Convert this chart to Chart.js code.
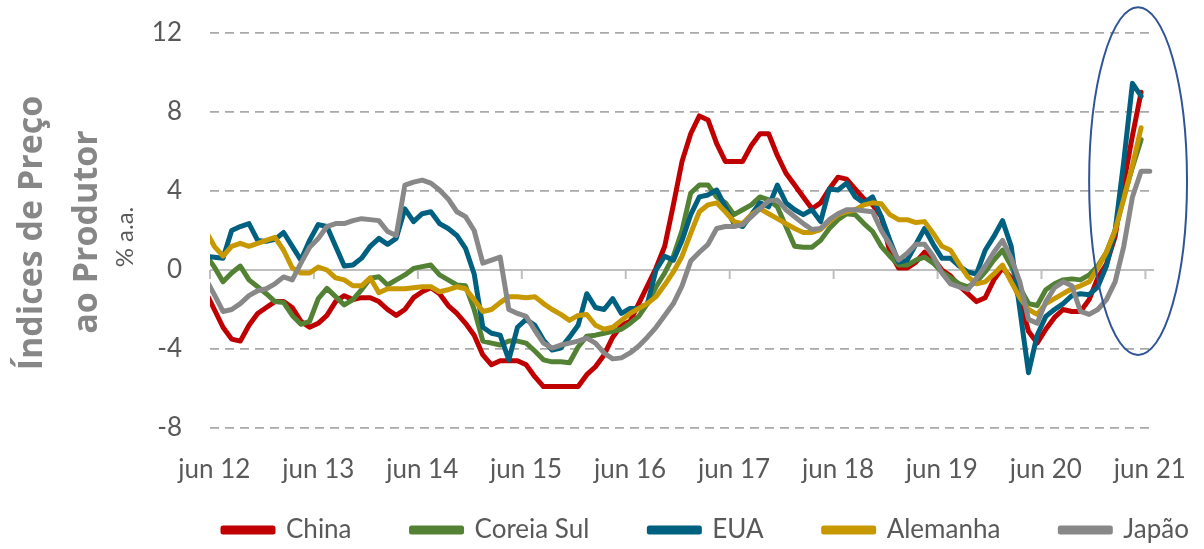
<!DOCTYPE html>
<html>
<head>
<meta charset="utf-8">
<script src="https://cdn.jsdelivr.net/npm/chart.js@4.4.1/dist/chart.umd.min.js"></script>
<style>
    html, body { margin: 0; padding: 0; background: #ffffff; }
    #wrap { width: 1204px; height: 549px; position: relative; }
</style>
</head>
<body>
<div id="wrap"><canvas id="ppiChart"></canvas></div>
<script>
// Months: mai 12 .. jun 21 (mai 12 sits just left of the axis and is clipped, as in the original)
var monthNames = ["jan", "fev", "mar", "abr", "mai", "jun", "jul", "ago", "set", "out", "nov", "dez"];
var xLabels = [];
for (var yr = 12; yr <= 21; yr++) {
    for (var m = 0; m < 12; m++) {
        if (yr === 12 && m < 4) continue;
        if (yr === 21 && m > 5) continue;
        xLabels.push(monthNames[m] + " " + yr);
    }
}
var firstMonth = "jun 12";
var lastMonth = "jun 21";

var yMin = -8;
var yMax = 12;
var yStep = 4;

var seriesNames = ["China", "Coreia Sul", "EUA", "Alemanha", "Japão"];
var seriesColors = ["#C00000", "#548235", "#006080", "#C89800", "#888888"];

// % a.a., mai 12 .. jun 21
var china = [
    -1.1, -2.0, -2.9, -3.5, -3.6, -2.8, -2.2, -1.9,
    -1.6, -1.6, -1.9, -2.6, -2.9, -2.7, -2.3, -1.6, -1.3, -1.5, -1.4, -1.4,
    -1.6, -2.0, -2.3, -2.0, -1.4, -1.1, -0.9, -1.2, -1.8, -2.2, -2.7, -3.3,
    -4.3, -4.8, -4.6, -4.6, -4.6, -4.8, -5.4, -5.9, -5.9, -5.9, -5.9, -5.9,
    -5.3, -4.9, -4.3, -3.4, -2.8, -2.6, -1.7, -0.8, 0.1, 1.2, 3.3, 5.5,
    6.9, 7.8, 7.6, 6.4, 5.5, 5.5, 5.5, 6.3, 6.9, 6.9, 5.8, 4.9,
    4.3, 3.7, 3.1, 3.4, 4.1, 4.7, 4.6, 4.1, 3.6, 3.3, 2.7, 0.9,
    0.1, 0.1, 0.4, 0.9, 0.6, 0.0, -0.3, -0.8, -1.2, -1.6, -1.4, -0.5,
    0.1, -0.4, -1.5, -3.1, -3.7, -3.0, -2.4, -2.0, -2.1, -2.1, -1.5, -0.4,
    0.3, 1.7, 4.4, 6.8, 9.0, null
];
var coreiaSul = [
    0.8, 0.15, -0.6, -0.15, 0.2, -0.5, -0.85, -1.2,
    -1.6, -1.65, -2.3, -2.75, -2.6, -1.45, -0.93, -1.35, -1.77, -1.5, -1.0, -0.42,
    -0.34, -0.76, -0.5, -0.25, 0.08, 0.17, 0.25, -0.25, -0.5, -0.76, -0.8, -2.0,
    -3.6, -3.7, -3.8, -3.6, -3.6, -3.7, -4.1, -4.55, -4.65, -4.65, -4.7, -3.9,
    -3.35, -3.3, -3.2, -3.1, -3.0, -2.7, -2.35, -1.7, -0.85, -0.15, 0.7, 2.0,
    3.9, 4.3, 4.3, 3.7, 3.4, 2.8, 3.05, 3.3, 3.7, 3.55, 3.2, 2.2,
    1.2, 1.15, 1.15, 1.5, 2.1, 2.55, 2.85, 2.8, 2.35, 1.95, 1.2, 0.7,
    0.25, 0.25, 0.5, 0.65, 0.35, -0.1, -0.4, -0.7, -0.85, -0.6, -0.1, 0.5,
    1.0, 0.2, -0.9, -1.7, -1.8, -1.0, -0.7, -0.5, -0.45, -0.5, -0.25, 0.2,
    0.9, 2.0, 3.7, 5.2, 6.6, null
];
var eua = [
    0.7, 0.65, 0.6, 2.0, 2.2, 2.35, 1.5, 1.45,
    1.55, 1.9, 1.2, 0.5, 1.5, 2.3, 2.2, 1.2, 0.2, 0.25, 0.6, 1.2,
    1.6, 1.3, 1.6, 3.1, 2.45, 2.85, 2.95, 2.35, 2.1, 1.75, 1.1, -0.2,
    -2.9, -3.2, -3.3, -4.55, -2.9, -2.5, -2.8, -3.55, -4.05, -3.95, -3.4, -2.8,
    -1.2, -1.9, -2.0, -1.45, -2.2, -1.95, -1.95, -1.7, 0.0, 0.7, 0.5, 1.5,
    2.8, 3.7, 3.8, 4.05, 3.2, 2.35, 2.2, 2.8, 3.4, 3.2, 4.3, 3.4,
    3.05, 2.8, 3.05, 2.45, 4.1, 4.05, 4.4, 3.7, 3.4, 3.7, 2.7, 1.5,
    0.4, 0.5, 1.3, 2.1, 1.3, 0.6, 0.6, 0.2, -0.1, -0.2, 1.0, 1.7,
    2.5, 1.2, -2.0, -5.2, -3.3, -2.35, -2.0, -1.7, -1.3, -1.2, -1.25, -0.85,
    0.2, 2.0, 5.5, 9.45, 8.8, null
];
var alemanha = [
    2.0, 1.2, 0.7, 1.2, 1.35, 1.2, 1.35, 1.5,
    1.65, 1.0, 0.1, -0.15, -0.15, 0.15, 0.0, -0.4, -0.5, -0.8, -0.8, -0.4,
    -1.15, -0.95, -0.95, -0.95, -0.9, -0.85, -0.85, -1.1, -1.0, -0.85, -0.95, -1.5,
    -2.1, -2.0, -1.65, -1.35, -1.35, -1.4, -1.35, -1.7, -2.0, -2.25, -2.55, -2.3,
    -2.25, -2.8, -3.0, -2.9, -2.55, -2.2, -1.95, -1.7, -1.35, -0.75, -0.1, 0.7,
    1.85, 2.95, 3.3, 3.4, 2.95, 2.45, 2.35, 2.8, 3.1, 2.85, 2.6, 2.35,
    2.1, 1.9, 1.9, 2.05, 2.45, 2.8, 2.95, 3.05, 3.3, 3.4, 3.35, 2.8,
    2.55, 2.55, 2.4, 2.45, 1.85, 1.2, 1.0, 0.3, -0.35, -0.7, -0.6, -0.2,
    0.25, -0.6, -1.4, -2.0, -2.25, -1.7, -1.45, -1.2, -0.95, -0.8, -0.6, 0.1,
    0.9, 2.0, 3.6, 5.3, 7.2, null
];
var japao = [
    -0.45, -1.25, -2.1, -2.0, -1.7, -1.3, -1.05, -0.95,
    -0.7, -0.35, -0.5, 0.35, 1.15, 1.6, 2.2, 2.35, 2.35, 2.5, 2.6, 2.55,
    2.5, 1.95, 1.75, 4.3, 4.45, 4.55, 4.4, 4.05, 3.6, 2.95, 2.7, 2.0,
    0.35, 0.5, 0.65, -2.0, -2.2, -2.35, -3.05, -3.7, -3.95, -3.8, -3.7, -3.6,
    -3.45, -3.7, -4.2, -4.5, -4.45, -4.2, -3.85, -3.4, -2.9, -2.3, -1.7, -0.8,
    0.45, 0.9, 1.3, 2.1, 2.2, 2.2, 2.3, 2.7, 3.1, 3.5, 3.55, 3.05,
    2.7, 2.35, 2.05, 2.1, 2.55, 2.85, 3.05, 3.05, 3.0, 2.95, 2.0, 1.3,
    0.5, 0.85, 1.3, 1.3, 0.7, -0.15, -0.7, -0.85, -1.0, -0.4, 0.2, 0.9,
    1.5, 0.6, -0.6, -2.5, -2.7, -1.6, -0.9, -0.6, -0.8, -2.1, -2.25, -2.0,
    -1.5, -0.6, 1.2, 3.7, 5.0, 5.0
];
var seriesData = [china, coreiaSul, eua, alemanha, japao];

// highlighted area (ellipse) in data units
var highlight = { fromMonth: "nov 20", months: 11.3, low: -4.3, high: 13.3 };

var labelFont = "Lato, 'Liberation Sans', sans-serif";
var textGrey = "#595959";

var datasets = seriesNames.map(function (name, i) {
    return {
        label: name,
        data: seriesData[i],
        borderColor: seriesColors[i],
        backgroundColor: seriesColors[i],
        borderWidth: 5,
        borderJoinStyle: "round",
        borderCapStyle: "round",
        pointRadius: 0,
        pointHoverRadius: 0,
        tension: 0,
        clip: 0,
        order: seriesNames.length - i   // later series drawn on top, like Excel
    };
});

// solid zero line + small year tick marks
var zeroAxis = {
    id: "zeroAxis",
    beforeDatasetsDraw: function (chart) {
        var ctx = chart.ctx;
        var xs = chart.scales.x;
        var y0 = chart.scales.y.getPixelForValue(0);
        ctx.save();
        ctx.strokeStyle = "#BFBFBF";
        ctx.lineWidth = 2;
        ctx.beginPath();
        ctx.moveTo(chart.chartArea.left, y0);
        ctx.lineTo(chart.chartArea.right, y0);
        for (var i = xs.min; i <= xs.max; i++) {
            if (xLabels[i].indexOf("jun") === 0) {
                var px = (xs.getPixelForValue(i - 1) + xs.getPixelForValue(i)) / 2;
                ctx.moveTo(px, y0);
                ctx.lineTo(px, y0 + 9);
            }
        }
        ctx.stroke();
        ctx.restore();
    }
};

// ellipse, axis titles, legend placement
var extras = {
    id: "extras",
    afterLayout: function (chart) {
        var lg = chart.legend;
        var pad = lg.options.labels.padding;
        lg.left = 223 - pad;
        lg.right = 1400;
        lg.top = 530 - 13 - pad;   // text centred on y = 530
    },
    afterDraw: function (chart) {
        var ctx = chart.ctx;
        var xs = chart.scales.x;
        var ys = chart.scales.y;
        var cw = xs.getPixelForValue(1) - xs.getPixelForValue(0);
        var left = xs.getPixelForValue(xLabels.indexOf(highlight.fromMonth));
        var right = left + highlight.months * cw;
        var top = ys.getPixelForValue(highlight.high);
        var bottom = ys.getPixelForValue(highlight.low);
        ctx.save();
        ctx.strokeStyle = "#2F5597";
        ctx.lineWidth = 2;
        ctx.beginPath();
        ctx.ellipse((left + right) / 2, (top + bottom) / 2, (right - left) / 2, (bottom - top) / 2, 0, 0, Math.PI * 2);
        ctx.stroke();

        ctx.fillStyle = "#878787";
        ctx.textAlign = "center";
        ctx.textBaseline = "middle";
        ctx.font = "bold 34px 'Open Sans', sans-serif";
        ctx.save();
        ctx.translate(32, 233);
        ctx.rotate(-Math.PI / 2);
        ctx.fillText("Índices de Preço", 0, 0);
        ctx.restore();
        ctx.save();
        ctx.translate(87, 232);
        ctx.rotate(-Math.PI / 2);
        ctx.fillText("ao Produtor", 0, 0);
        ctx.restore();
        ctx.save();
        ctx.fillStyle = textGrey;
        ctx.font = "24px " + labelFont;
        ctx.translate(125, 237);
        ctx.rotate(-Math.PI / 2);
        ctx.fillText("% a.a.", 0, 0);
        ctx.restore();
        ctx.restore();
    }
};

new Chart("ppiChart", {
    type: "line",
    data: {
        labels: xLabels,
        datasets: datasets
    },
    options: {
        responsive: true,
        maintainAspectRatio: false,
        animation: false,
        events: [],
        layout: {
            padding: { left: 0, right: 45, top: 33, bottom: 0 }
        },
        scales: {
            x: {
                type: "category",
                min: firstMonth,
                max: lastMonth,
                offset: true,
                grid: { display: false },
                border: { display: false },
                ticks: {
                    autoSkip: false,
                    maxRotation: 0,
                    padding: 18,
                    color: textGrey,
                    font: { family: labelFont, size: 26 },
                    callback: function (val) {
                        var lbl = this.getLabelForValue(val);
                        return lbl.indexOf("jun") === 0 ? lbl : "";
                    }
                },
                afterFit: function (scale) { scale.height = 95; }
            },
            y: {
                min: yMin,
                max: yMax,
                grid: {
                    color: "#A9A9A9",
                    lineWidth: 1.8,
                    drawTicks: false
                },
                border: { display: false, dash: [9, 6] },
                ticks: {
                    stepSize: yStep,
                    padding: 28,
                    color: textGrey,
                    font: { family: labelFont, size: 26 }
                },
                afterFit: function (scale) {
                    scale.width = 210;
                    scale.paddingTop = 0;
                    scale.paddingBottom = 0;
                }
            }
        },
        plugins: {
            legend: {
                position: "bottom",
                align: "start",
                maxHeight: 26,
                labels: {
                    boxWidth: 50,
                    boxHeight: 4,
                    padding: 60,
                    color: textGrey,
                    font: { family: labelFont, size: 26 },
                    sort: function (a, b) { return a.datasetIndex - b.datasetIndex; }
                }
            },
            tooltip: { enabled: false }
        }
    },
    plugins: [zeroAxis, extras]
});
</script>
</body>
</html>
